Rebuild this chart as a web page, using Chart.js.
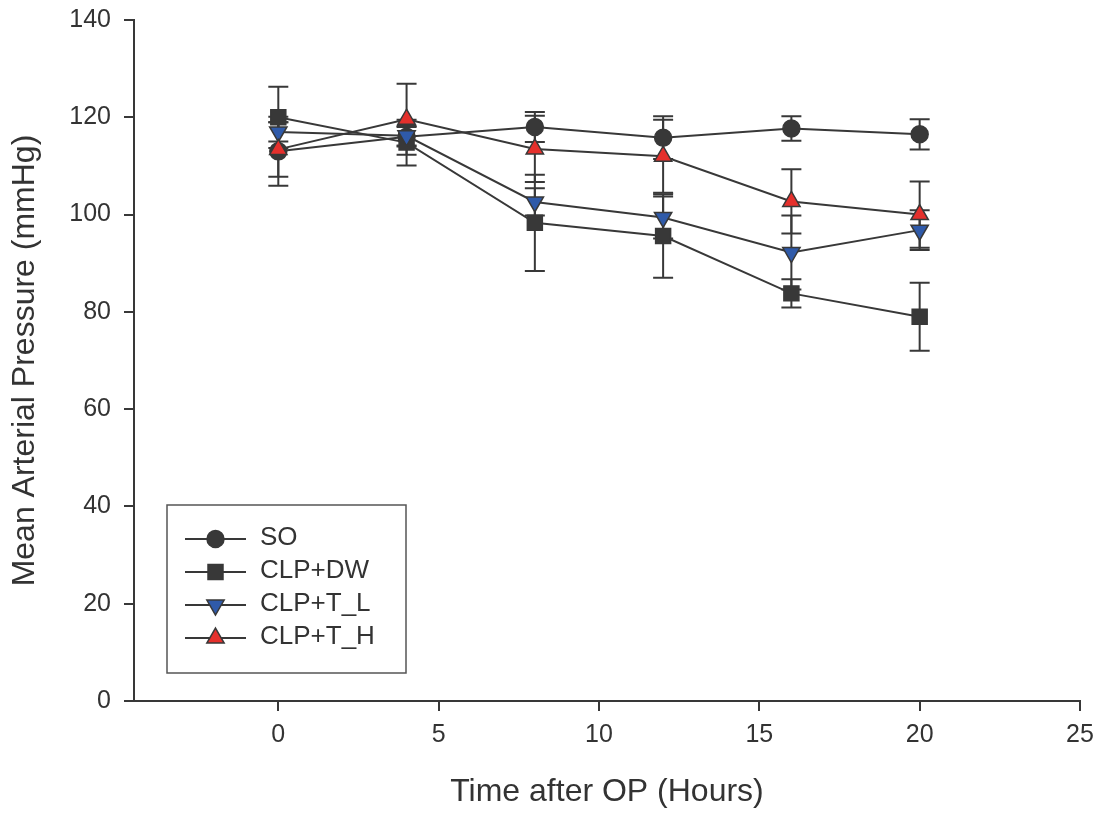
<!DOCTYPE html>
<html>
<head>
<meta charset="utf-8">
<script src="https://cdn.jsdelivr.net/npm/chart.js@4.4.1/dist/chart.umd.min.js"></script>
<style>
  html, body { margin: 0; padding: 0; background: #fff; }
  #wrap { width: 1102px; height: 814px; }
</style>
</head>
<body>
<div id="wrap"><canvas id="map-chart" width="1102" height="814"></canvas></div>
<script>
// ==================== DATA ====================
const hours = [0, 4, 8, 12, 16, 20];
const xTicks = [0, 5, 10, 15, 20, 25];
const seriesNames = ['SO', 'CLP+DW', 'CLP+T_L', 'CLP+T_H'];

const soMean = [113, 116, 118, 115.8, 117.7, 116.5];
const soErr  = [7.1, 2, 3.1, 4.4, 2.5, 3.1];
const dwMean = [120, 114.8, 98.3, 95.6, 83.8, 79];
const dwErr  = [6.3, 4.7, 9.9, 8.6, 2.9, 7];
const tlMean = [117, 116.2, 102.6, 99.4, 92.2, 96.8];
const tlErr  = [2, 2, 2.8, 4.3, 7.6, 4.1];
const thMean = [113.4, 119.6, 113.5, 112, 102.7, 100];
const thErr  = [5.6, 7.3, 6.8, 7.5, 6.6, 6.8];

const INK = '#383838';
const FONT = "'Liberation Sans', Arial, sans-serif";

const pts = (ys) => hours.map((h, i) => ({ x: h, y: ys[i] }));

// style per series (SO, DW, T_L, T_H)
const styles = [
  { pointStyle: 'circle',   radius: 8.5, rotation: 0,   fill: INK },
  { pointStyle: 'rect',     radius: 10.6, rotation: 0,  fill: INK },
  { pointStyle: 'triangle', radius: 10,  rotation: 180, fill: '#2f5aa9' },
  { pointStyle: 'triangle', radius: 10,  rotation: 0,   fill: '#e5302c' }
];
const means = [soMean, dwMean, tlMean, thMean];
const errs = [soErr, dwErr, tlErr, thErr];

// ==================== PLUGINS ====================
const errorBars = {
  id: 'errorBars',
  beforeDatasetsDraw(chart) {
    const { ctx, scales: { x, y } } = chart;
    ctx.save();
    ctx.strokeStyle = INK;
    ctx.lineWidth = 2;
    means.forEach((m, s) => {
      m.forEach((v, i) => {
        const px = x.getPixelForValue(hours[i]);
        const top = y.getPixelForValue(v + errs[s][i]);
        const bot = y.getPixelForValue(v - errs[s][i]);
        ctx.beginPath();
        ctx.moveTo(px, top); ctx.lineTo(px, bot);
        ctx.moveTo(px - 10, top); ctx.lineTo(px + 10, top);
        ctx.moveTo(px - 10, bot); ctx.lineTo(px + 10, bot);
        ctx.stroke();
      });
    });
    ctx.restore();
  }
};

const boxLegend = {
  id: 'boxLegend',
  afterDraw(chart) {
    const { ctx, chartArea } = chart;
    const bx = chartArea.left + 33, by = chartArea.bottom - 196;
    ctx.save();
    ctx.strokeStyle = '#555';
    ctx.lineWidth = 1.5;
    ctx.strokeRect(bx, by, 239, 168);
    ctx.font = '26px ' + FONT;
    ctx.textBaseline = 'middle';
    ctx.textAlign = 'left';
    seriesNames.forEach((name, i) => {
      const ry = by + 34 + i * 33;
      ctx.strokeStyle = INK;
      ctx.lineWidth = 2;
      ctx.beginPath();
      ctx.moveTo(bx + 18, ry); ctx.lineTo(bx + 79, ry);
      ctx.stroke();
      const st = styles[i];
      ctx.fillStyle = st.fill;
      ctx.strokeStyle = INK;
      ctx.lineWidth = 1.5;
      Chart.helpers.drawPoint(ctx, {
        pointStyle: st.pointStyle, radius: st.radius, rotation: st.rotation, borderWidth: 1.5
      }, bx + 48.5, ry);
      ctx.fillStyle = '#333';
      ctx.fillText(name, bx + 93, ry - 1);
    });
    ctx.restore();
  }
};

// ==================== CHART ====================
const datasets = means.map((m, s) => ({
  label: seriesNames[s],
  data: pts(m),
  order: 4 - s,
  showLine: true,
  borderColor: INK,
  borderWidth: 2,
  pointStyle: styles[s].pointStyle,
  pointRadius: styles[s].radius,
  pointRotation: styles[s].rotation,
  pointBackgroundColor: styles[s].fill,
  pointBorderColor: INK,
  pointBorderWidth: 1.5,
  pointHoverRadius: styles[s].radius
}));

new Chart(document.getElementById('map-chart'), {
  type: 'scatter',
  data: { datasets },
  options: {
    responsive: false,
    animation: false,
    events: [],
    layout: { padding: { left: 0, right: 22, top: 20, bottom: 0 } },
    plugins: { legend: { display: false }, tooltip: { enabled: false } },
    scales: {
      x: {
        type: 'linear', min: -4.5, max: 25,
        afterBuildTicks: (sc) => { sc.ticks = xTicks.map(v => ({ value: v })); },
        afterFit: (sc) => { sc.height = 113; sc.paddingLeft = 0; sc.paddingRight = 0; },
        grid: { display: true, drawOnChartArea: false, drawTicks: true, tickLength: 10, color: INK, lineWidth: 2 },
        border: { display: true, color: INK, width: 2 },
        ticks: { padding: 9, color: '#333', font: { size: 25, family: FONT }, maxRotation: 0 },
        title: { display: true, text: 'Time after OP (Hours)', color: '#333',
          font: { size: 32, family: FONT }, padding: { top: 0, bottom: 3 } }
      },
      y: {
        min: 0, max: 140,
        ticks: { stepSize: 20, padding: 13, color: '#333', font: { size: 25, family: FONT } },
        afterFit: (sc) => { sc.width = 134; sc.paddingTop = 0; sc.paddingBottom = 0; },
        grid: { display: true, drawOnChartArea: false, drawTicks: true, tickLength: 10, color: INK, lineWidth: 2 },
        border: { display: true, color: INK, width: 2 },
        title: { display: true, text: 'Mean Arterial Pressure (mmHg)', color: '#333',
          font: { size: 32, family: FONT }, padding: { top: 6, bottom: 0 } }
      }
    }
  },
  plugins: [errorBars, boxLegend]
});
</script>
</body>
</html>
